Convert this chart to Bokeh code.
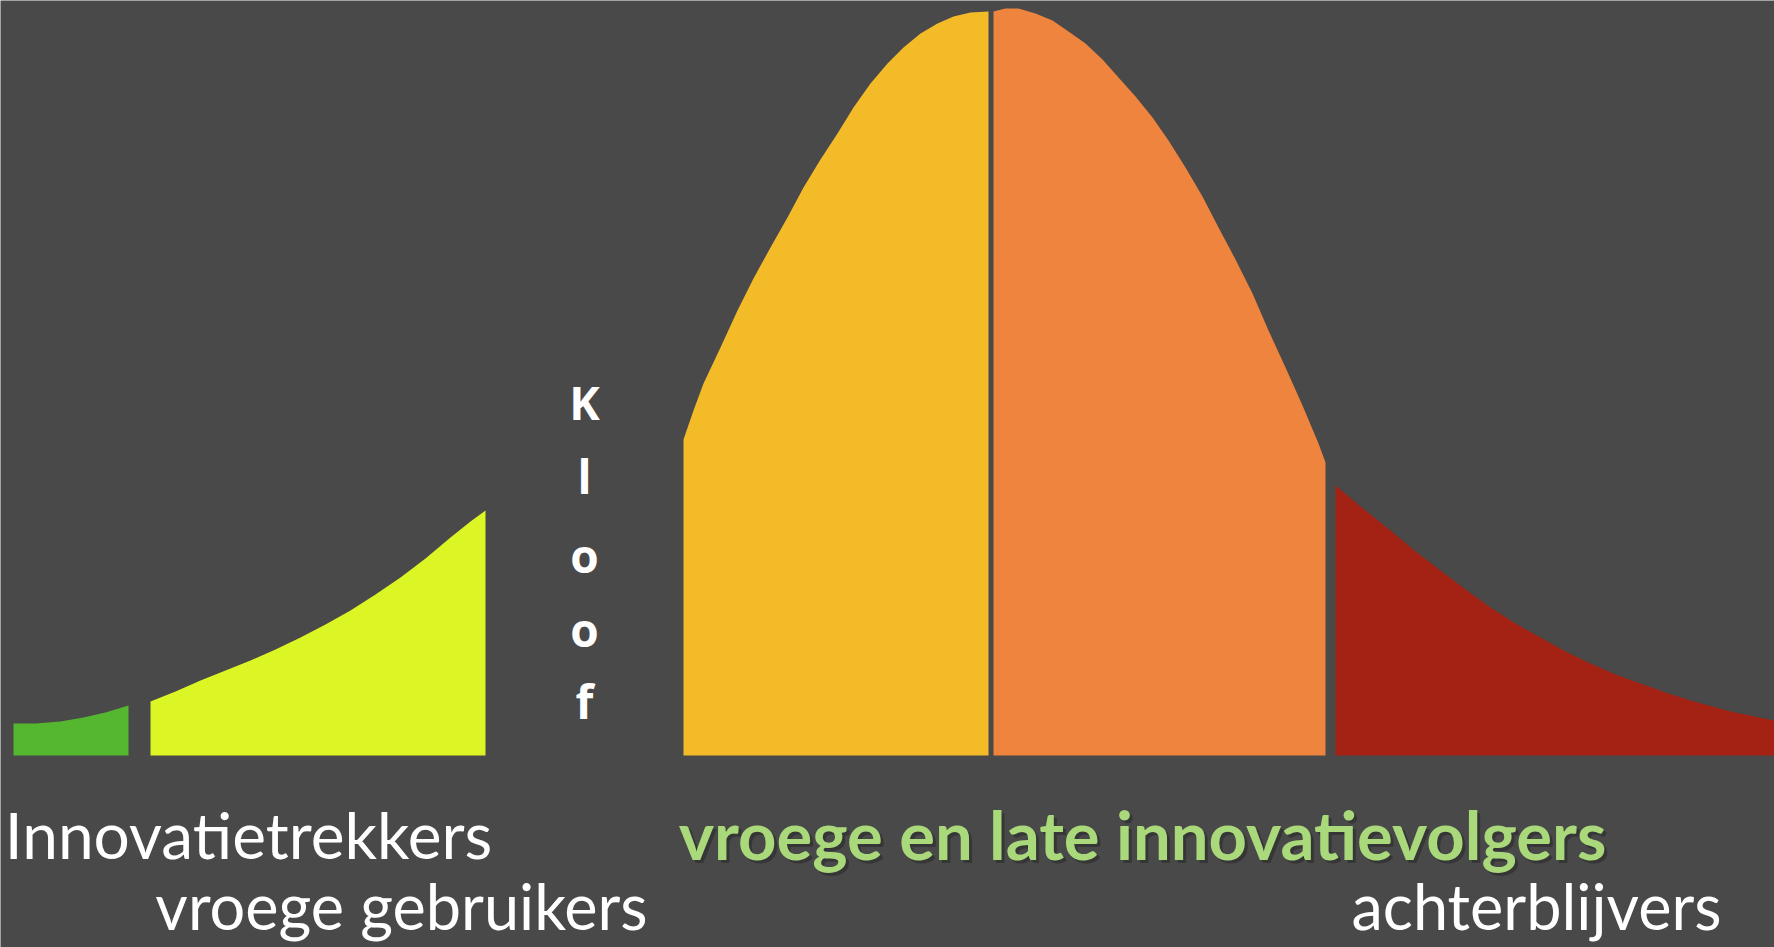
from bokeh.plotting import figure
from bokeh.models import Range1d
from bokeh.embed import file_html
from bokeh.resources import INLINE
from bokeh.core.properties import value

# ---- data: top edges of each adopter segment (image pixel units)
baseline = 755

innovators_x = [13, 35, 60, 83, 105, 128]
innovators_y = [723, 723, 721, 717, 712, 705]

early_adopters_x = [150, 175, 200, 225, 250, 275, 300, 325, 350, 375, 400, 425, 450, 470, 485]
early_adopters_y = [701, 691, 680, 670, 660, 649, 637, 624, 610, 594, 577, 558, 537, 521, 510]

early_majority_x = [683, 693, 703, 720, 737, 753, 770, 787, 803, 820, 837, 853, 870,
                    887, 903, 920, 937, 953, 970, 988]
early_majority_y = [439, 410, 383, 347, 310, 278, 247, 217, 187, 159, 133, 107, 83,
                    63, 47, 33, 23, 16, 12, 11]

late_majority_x = [993, 1005, 1018, 1035, 1052, 1068, 1085, 1102, 1118, 1135, 1152, 1168,
                   1185, 1202, 1218, 1235, 1252, 1268, 1285, 1302, 1318, 1325]
late_majority_y = [11, 8, 8, 13, 20, 31, 43, 59, 77, 96, 117, 140,
                   167, 196, 227, 259, 293, 330, 367, 405, 443, 462]

laggards_x = [1335, 1360, 1390, 1415, 1440, 1465, 1490, 1515, 1540, 1565, 1590, 1615,
              1640, 1665, 1690, 1730, 1774]
laggards_y = [485, 506, 530, 551, 570, 589, 607, 623, 637, 651, 663, 674,
              683, 692, 700, 711, 720]

segment_colors = ["#55b62f", "#dcf524", "#f4bb29", "#ef843e", "#a32214"]

chasm_letters = ["K", "l", "o", "o", "f"]
labels = ["Innovatietrekkers", "vroege gebruikers",
          "vroege en late innovatievolgers", "achterblijvers"]

BG = "#494949"

p = figure(width=1774, height=947, output_backend="svg", toolbar_location=None,
           x_range=Range1d(0, 1774), y_range=Range1d(947, 0),
           min_border=0, background_fill_color=BG, border_fill_color=BG,
           outline_line_color=None)
p.axis.visible = False
p.grid.visible = False

segments = [(innovators_x, innovators_y), (early_adopters_x, early_adopters_y),
            (early_majority_x, early_majority_y), (late_majority_x, late_majority_y),
            (laggards_x, laggards_y)]
for (xs, ys), c in zip(segments, segment_colors):
    px = list(xs) + [xs[-1], xs[0]]
    py = list(ys) + [baseline, baseline]
    p.patch(px, py, fill_color=c, line_color=None)

# chasm ("Kloof") letters, vertical
kloof_y = [401, 475, 554, 628, 700]
p.text(x=[584] * len(chasm_letters), y=kloof_y, text=chasm_letters,
       text_font=value("Open Sans"), text_font_style="bold", text_font_size="46px",
       text_color="#ffffff", text_align="center", text_baseline="middle")

# category labels (y = vertical middle of each line)
font = value("Lato")
p.text(x=[248], y=[834], text=[labels[0]], text_font=font, text_font_size="64px",
       text_color="#ffffff", text_align="center", text_baseline="middle")
p.text(x=[401], y=[905], text=[labels[1]], text_font=font, text_font_size="63px",
       text_color="#ffffff", text_align="center", text_baseline="middle")
p.text(x=[1145], y=[836], text=[labels[2]], text_font=font, text_font_size="67px",
       text_font_style="bold", text_color="#2a2a2a", text_align="center",
       text_baseline="middle", text_alpha=0.6)
p.text(x=[1142], y=[833], text=[labels[2]], text_font=font, text_font_size="67px",
       text_font_style="bold", text_color="#a9d97a", text_align="center",
       text_baseline="middle")
p.text(x=[1536], y=[905], text=[labels[3]], text_font=font, text_font_size="63px",
       text_color="#ffffff", text_align="center", text_baseline="middle")

html = file_html(p, INLINE)
html = html.replace("<body>", '<body style="background:#494949;margin:0;">', 1)
open("out.html", "w").write(html)
